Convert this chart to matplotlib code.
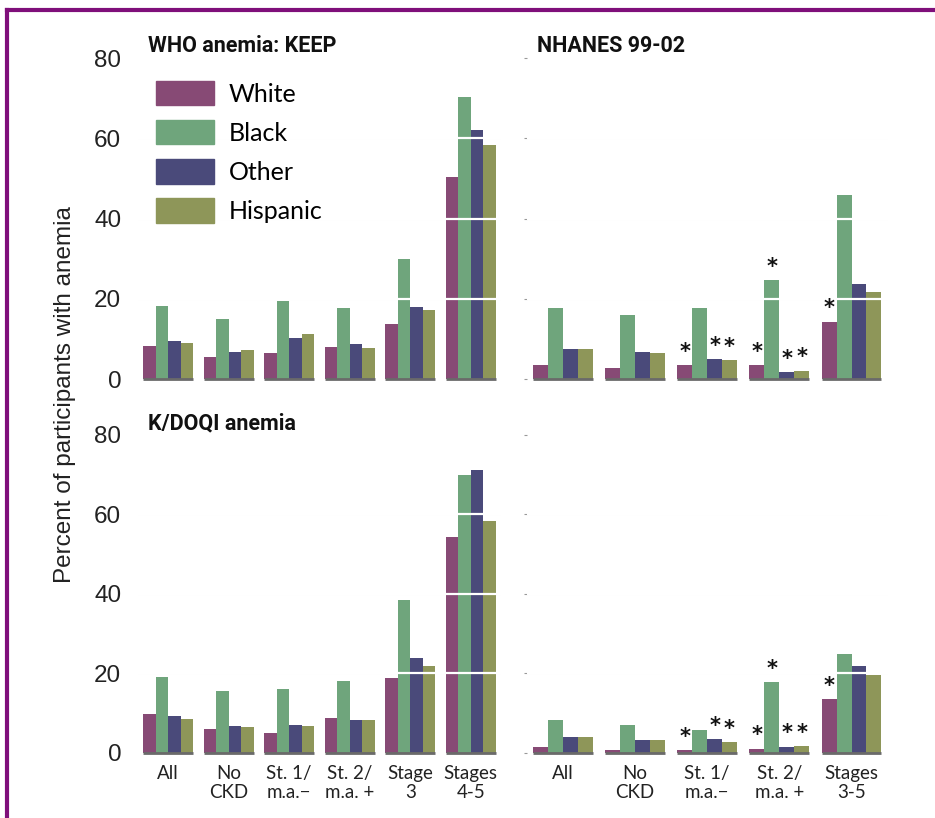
import numpy as np
import matplotlib.pyplot as plt
from matplotlib.patches import Patch
from matplotlib.lines import Line2D

# data (percent of participants with anemia)
races = ["White", "Black", "Other", "Hispanic"]
colors = ["#874a75", "#6fa57c", "#4a4a7a", "#8e9659"]

keep_labels = ["All", "No\nCKD", "St. 1/\nm.a.\u2212", "St. 2/\nm.a. +", "Stage\n3", "Stages\n4-5"]
nhanes_labels = ["All", "No\nCKD", "St. 1/\nm.a.\u2212", "St. 2/\nm.a. +", "Stages\n3-5"]

# WHO anemia, KEEP: rows = groups, cols = White, Black, Other, Hispanic
who_keep = np.array([
    [8.3, 18.3, 9.5, 9.0],
    [5.4, 15.0, 6.8, 7.2],
    [6.6, 19.5, 10.2, 11.2],
    [8.1, 17.7, 8.8, 7.8],
    [13.6, 29.8, 17.9, 17.2],
    [50.3, 70.3, 62.0, 58.4],
])
who_nhanes = np.array([
    [3.5, 17.7, 7.6, 7.4],
    [2.8, 16.0, 6.7, 6.4],
    [3.5, 17.7, 5.0, 4.8],
    [3.5, 24.6, 1.8, 2.1],
    [14.3, 45.8, 23.7, 21.7],
])
kdoqi_keep = np.array([
    [9.6, 19.0, 9.3, 8.4],
    [6.0, 15.6, 6.7, 6.5],
    [5.0, 15.9, 7.0, 6.7],
    [8.6, 18.0, 8.1, 8.1],
    [18.7, 38.3, 23.7, 21.8],
    [54.4, 70.0, 71.2, 58.2],
])
kdoqi_nhanes = np.array([
    [1.4, 8.1, 4.0, 3.8],
    [0.7, 6.9, 3.1, 3.1],
    [0.7, 5.7, 3.4, 2.6],
    [1.0, 17.7, 1.5, 1.6],
    [13.4, 24.9, 21.9, 19.5],
])
# significance stars (group index, race index) for NHANES panels
stars = [(2, 0), (2, 2), (2, 3), (3, 0), (3, 1), (3, 2), (3, 3), (4, 0)]

W, H = 935, 818
fig = plt.figure(figsize=(W / 100, H / 100), dpi=100)

bw = 0.207
offs = (np.arange(4) - 1.5) * bw
geo = ["Lato", "DejaVu Sans"]
narrow = ["Roboto", "DejaVu Sans"]


def panel(rect, data, star=False, labels=None, title=None, left=True):
    ax = fig.add_axes(rect)
    n = len(data)
    x = np.arange(n)
    for j in range(4):
        ax.bar(x + offs[j], data[:, j], bw, color=colors[j], zorder=2, linewidth=0)
    for g in [20, 40, 60]:
        ax.axhline(g, color="#f1f1f1", lw=0.8, zorder=0)
        ax.axhline(g, color="white", lw=1.6, zorder=3)
    ax.hlines(np.zeros(n), x - 2 * bw, x + 2 * bw, color="#6a6a6a", lw=2, zorder=4, clip_on=False)
    if star:
        for g, j in stars:
            ax.text(x[g] + offs[j], data[g, j] + 0.8, "*", ha="center", va="bottom",
                    fontsize=15, fontweight="bold", color="#111")
    ax.set_xlim(-0.5, n - 0.5)
    ax.set_ylim(0, 85)
    ax.set_yticks([0, 20, 40, 60, 80])
    for s in ax.spines.values():
        s.set_visible(False)
    if left:
        ax.tick_params(axis="y", length=0, labelsize=17.5, pad=12, labelcolor="#222")
        for t in ax.get_yticklabels():
            t.set_family(["Liberation Sans", "DejaVu Sans"])
    else:
        ax.tick_params(axis="y", length=2, color="#999", labelleft=False)
    if labels:
        ax.set_xticks(x)
        ax.set_xticklabels(labels, fontsize=13.5, family=geo, linespacing=1.15, color="#222")
        ax.tick_params(axis="x", length=0, pad=9)
    else:
        ax.set_xticks([])
    if title:
        top = rect[1] + rect[3]
        fig.text(rect[0] + 10 / W, top + 3 / H, title, fontsize=15.5, fontweight="bold",
                 family=narrow, va="top", ha="left", color="#111")
    return ax


top_b = (H - 379) / H
top_h = 341 / H
bot_b = (H - 752.5) / H
bot_h = 337.5 / H
l_left, l_w = 138 / W, 363 / W
r_left, r_w = 526.6 / W, 361 / W

ax1 = panel([l_left, top_b, l_w, top_h], who_keep, title="WHO anemia: KEEP")
ax2 = panel([r_left, top_b, r_w, top_h], who_nhanes, star=True, title="NHANES 99-02", left=False)
ax3 = panel([l_left, bot_b, l_w, bot_h], kdoqi_keep, labels=keep_labels, title="K/DOQI anemia")
ax4 = panel([r_left, bot_b, r_w, bot_h], kdoqi_nhanes, star=True, labels=nhanes_labels, left=False)

handles = [Patch(color=c) for c in colors]
ax1.legend(handles, races, loc="upper left", bbox_to_anchor=(156 / W, 1 - 81 / H),
           bbox_transform=fig.transFigure, frameon=False, prop={"family": geo, "size": 18},
           handlelength=2.3, handleheight=1.12, labelspacing=0.58, handletextpad=0.62,
           borderaxespad=0, borderpad=0)

fig.text(65 / W, 1 - 395 / H, "Percent of participants with anemia", rotation=90,
         ha="center", va="center", fontsize=17.5, family=["Liberation Sans", "DejaVu Sans"], color="#222")

# purple frame on the top and left edges
fig.add_artist(Line2D([7 / W, 7 / W], [0, 1 - 10 / H], transform=fig.transFigure,
                      color="#7f0f7a", lw=3))
fig.add_artist(Line2D([7 / W, 1], [1 - 10 / H, 1 - 10 / H], transform=fig.transFigure,
                      color="#7f0f7a", lw=3))

fig.savefig("out.png", dpi=100)
